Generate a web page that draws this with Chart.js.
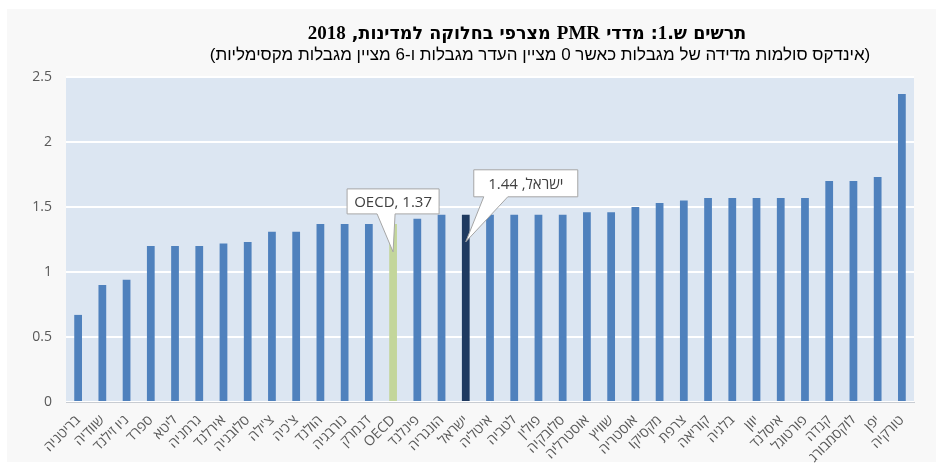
<!DOCTYPE html>
<html>
<head>
<meta charset="utf-8">
<script src="https://cdn.jsdelivr.net/npm/chart.js@4/dist/chart.umd.min.js"></script>
<style>
  html,body{margin:0;padding:0;background:#ffffff;}
  #wrap{position:relative;width:936px;height:468px;overflow:hidden;}
  #frame{position:absolute;left:7px;top:9px;width:929px;height:453px;background:#f8f8f8;}
  #c{position:absolute;left:0;top:0;}
  .t{position:absolute;direction:rtl;text-align:center;white-space:nowrap;color:#000;}
  #title{left:118px;width:818px;top:22px;font-weight:bold;font-size:17.5px;font-family:"DejaVu Sans",sans-serif;}
  #title .l{font-family:"Liberation Serif",serif;font-size:19px;}
  #sub{left:144px;width:792px;top:45px;font:17px "Liberation Sans","DejaVu Sans",sans-serif;}
</style>
</head>
<body>
<div id="wrap">
  <div id="frame"></div>
  <canvas id="c" width="936" height="468"></canvas>
  <div class="t" id="title">תרשים ש.<span class="l">1</span>: מדדי <span class="l">PMR</span> מצרפי בחלוקה למדינות, <span class="l">2018</span></div>
  <div class="t" id="sub">(אינדקס סולמות מדידה של מגבלות כאשר 0 מציין העדר מגבלות ו-6 מציין מגבלות מקסימליות)</div>
</div>
<script>
const categories = ['בריטניה','שוודיה','ניו זילנד','ספרד','ליטא','גרמניה','אירלנד','סלובניה',"צ'ילה","צ'כיה",'הולנד','נורבגיה','דנמרק','OECD','פינלנד','הונגריה','ישראל','איטליה','לטביה','פולין','סלובקיה','אוסטרליה','שוויץ','אוסטריה','מקסיקו','צרפת','קוריאה','בלגיה','יוון','איסלנד','פורטוגל','קנדה','לוקסמבורג','יפן','טורקיה'];
const pmrValues = [0.67,0.90,0.94,1.20,1.20,1.20,1.22,1.23,1.31,1.31,1.37,1.37,1.37,1.37,1.41,1.44,1.44,1.44,1.44,1.44,1.44,1.46,1.46,1.50,1.53,1.55,1.57,1.57,1.57,1.57,1.57,1.70,1.70,1.73,2.37];
const yTicks = [0,0.5,1,1.5,2,2.5];
const highlightOECD = 'OECD';
const highlightIsrael = 'ישראל';
const calloutOECD = 'OECD, 1.37';
const calloutIsrael = 'ישראל, 1.44';

const barColors = categories.map(c => c === highlightOECD ? '#c3d69b' : (c === highlightIsrael ? '#1f3a60' : '#4f81bd'));

const plotBg = {
  id:'plotBg',
  beforeDraw(chart){
    const {ctx, chartArea:a} = chart;
    ctx.save();
    ctx.fillStyle = '#dce6f2';
    ctx.fillRect(a.left, a.top, a.right-a.left, a.bottom-a.top);
    ctx.restore();
  }
};

function drawCallout(ctx, x, y, box, wedge, text, rtl){
  ctx.save();
  ctx.beginPath();
  ctx.moveTo(box.l, box.t);
  ctx.lineTo(box.r, box.t);
  ctx.lineTo(box.r, box.b);
  ctx.lineTo(wedge.r, box.b);
  ctx.lineTo(x, y);
  ctx.lineTo(wedge.l, box.b);
  ctx.lineTo(box.l, box.b);
  ctx.closePath();
  ctx.fillStyle = '#ffffff';
  ctx.fill();
  ctx.strokeStyle = '#a6a6a6';
  ctx.lineWidth = 1;
  ctx.stroke();
  ctx.fillStyle = '#404040';
  ctx.font = '15px "Open Sans","Liberation Sans","DejaVu Sans",sans-serif';
  ctx.textAlign = 'center';
  ctx.textBaseline = 'middle';
  ctx.direction = rtl ? 'rtl' : 'ltr';
  ctx.fillText(text, (box.l+box.r)/2, (box.t+box.b)/2+1);
  ctx.restore();
}

const callouts = {
  id:'callouts',
  afterDatasetsDraw(chart){
    const ctx = chart.ctx;
    const meta = chart.getDatasetMeta(0);
    const io = categories.indexOf(highlightOECD);
    const ii = categories.indexOf(highlightIsrael);
    const eo = meta.data[io], ei = meta.data[ii];
    {
      const x = eo.x, y = eo.y;
      drawCallout(ctx, x, y+28, {l:x-46, r:x+46, t:y-35, b:y-10}, {l:x-16, r:x+2}, calloutOECD, false);
    }
    {
      const x = ei.x, y = ei.y;
      drawCallout(ctx, x, y+27, {l:x+8, r:x+112, t:y-45, b:y-18}, {l:x+18, r:x+42}, calloutIsrael, true);
    }
  }
};

new Chart(document.getElementById('c'), {
  type:'bar',
  data:{
    labels: categories,
    datasets:[{
      data: pmrValues,
      backgroundColor: barColors,
      borderWidth: 0,
      barPercentage: 0.32,
      categoryPercentage: 1.0
    }]
  },
  options:{
    responsive:false,
    animation:false,
    devicePixelRatio:1,
    layout:{padding:{left:0, top:77, right:22, bottom:0}},
    plugins:{legend:{display:false}, title:{display:false}, tooltip:{enabled:false}},
    scales:{
      x:{
        grid:{display:false, drawTicks:false},
        border:{display:true, color:'#c8ccd2', width:1},
        ticks:{
          color:'#595959',
          font:{family:'"Open Sans","Liberation Sans","DejaVu Sans",sans-serif', size:14},
          minRotation:45, maxRotation:45, padding:10, autoSkip:false
        },
        afterFit(s){ s.height = 66; }
      },
      y:{
        min:0, max:2.5,
        afterBuildTicks(s){ s.ticks = yTicks.map(v => ({value:v})); },
        grid:{color:'#ffffff', lineWidth:2, drawTicks:false},
        border:{display:false},
        ticks:{
          color:'#595959',
          font:{family:'"Open Sans","Liberation Sans","DejaVu Sans",sans-serif', size:14},
          padding:14,
          callback:(v)=>String(v)
        },
        afterFit(s){ s.width = 66; }
      }
    }
  },
  plugins:[plotBg, callouts]
});
</script>
</body>
</html>
